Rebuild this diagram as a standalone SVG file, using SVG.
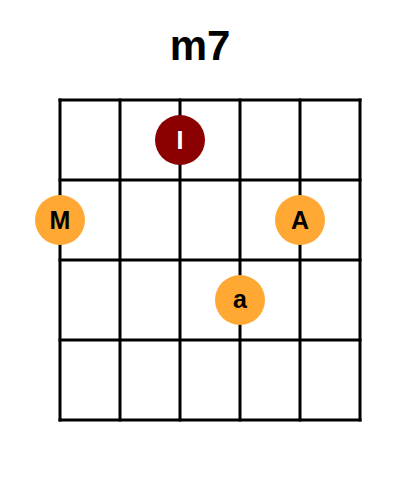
<svg xmlns="http://www.w3.org/2000/svg" width="400" height="500" viewBox="0 0 400 500">
<style>
.grid line{stroke:#000;stroke-width:3;stroke-linecap:square}
.title{font-family:"Liberation Sans",Arial,sans-serif;font-weight:bold;font-size:42px;fill:#000}
.lbl{font-family:"Liberation Sans",Arial,sans-serif;font-weight:bold;font-size:25px;text-anchor:middle}
.root{fill:#8B0000}
.note{fill:#FFA833}
</style>
<rect width="400" height="500" fill="#fff"/>
<text class="title" x="200" y="59.5" text-anchor="middle">m7</text>
<g id="grid" class="grid">
<line x1="60" y1="100" x2="360" y2="100"/>
<line x1="60" y1="180" x2="360" y2="180"/>
<line x1="60" y1="260" x2="360" y2="260"/>
<line x1="60" y1="340" x2="360" y2="340"/>
<line x1="60" y1="420" x2="360" y2="420"/>
<line x1="60" y1="100" x2="60" y2="420"/>
<line x1="120" y1="100" x2="120" y2="420"/>
<line x1="180" y1="100" x2="180" y2="420"/>
<line x1="240" y1="100" x2="240" y2="420"/>
<line x1="300" y1="100" x2="300" y2="420"/>
<line x1="360" y1="100" x2="360" y2="420"/>
</g>
<g id="note-I"><circle class="root" cx="180" cy="140" r="25"/><text class="lbl" x="180" y="149" fill="#fff">I</text></g>
<g id="note-M"><circle class="note" cx="60" cy="220" r="25"/><text class="lbl" x="60" y="229" fill="#000">M</text></g>
<g id="note-A"><circle class="note" cx="300" cy="220" r="25"/><text class="lbl" x="300" y="229" fill="#000">A</text></g>
<g id="note-a"><circle class="note" cx="240" cy="300" r="25"/><text class="lbl" x="240" y="307.5" fill="#000">a</text></g>
</svg>
